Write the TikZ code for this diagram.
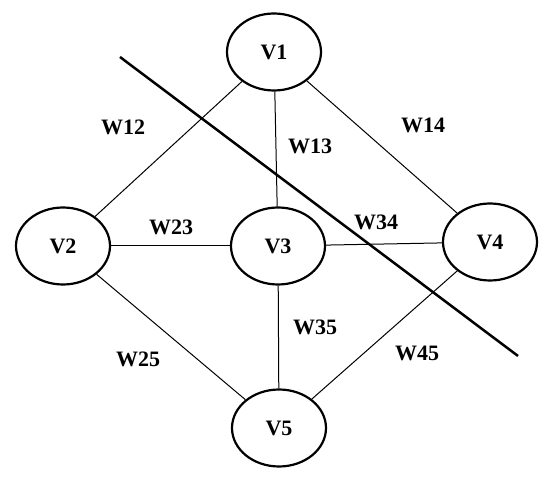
\documentclass[tikz,border=0pt]{standalone}
\usepackage{fontspec}
\setmainfont{Liberation Serif}
\usetikzlibrary{shapes.geometric}

\tikzset{
  vertex/.style={ellipse, draw, line width=2.2pt, minimum width=94pt, minimum height=77pt, inner sep=0pt, font=\fontsize{22}{26}\selectfont\bfseries},
  weight/.style={inner sep=0pt, font=\fontsize{22}{26}\selectfont\bfseries},
  link/.style={line width=1pt},
  cut/.style={line width=2.5pt}
}

\begin{document}
\begin{tikzpicture}[x=1pt,y=-1pt]
\useasboundingbox (0,0) rectangle (550,478);

\node[vertex] (v1) at (274,52) {V1};
\node[vertex] (v2) at (63,246) {V2};
\node[vertex] (v3) at (278,246) {V3};
\node[vertex] (v4) at (490,242) {V4};
\node[vertex] (v5) at (279,428) {V5};

\draw[link] (v1) -- (v2);
\draw[link] (v1) -- (v3);
\draw[link] (v1) -- (v4);
\draw[link] (v2) -- (v3);
\draw[link] (v3) -- (v4);
\draw[link] (v2) -- (v5);
\draw[link] (v3) -- (v5);
\draw[link] (v4) -- (v5);

% the cut
\coordinate (cuta) at (120,57);
\coordinate (cutb) at (518,356);
\draw[cut] (cuta) -- (cutb);

\node[weight] (w12) at (123,127) {W12};
\node[weight] (w13) at (310,146) {W13};
\node[weight] (w14) at (423,125) {W14};
\node[weight] (w23) at (171,227) {W23};
\node[weight] (w34) at (376,222) {W34};
\node[weight] (w35) at (315,327) {W35};
\node[weight] (w25) at (138,359) {W25};
\node[weight] (w45) at (417,353) {W45};
\end{tikzpicture}
\end{document}
